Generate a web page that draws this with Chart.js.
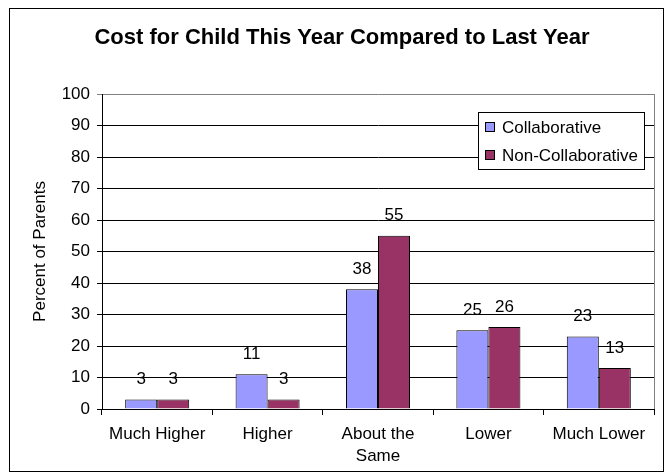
<!DOCTYPE html>
<html>
<head>
<meta charset="utf-8">
<script src="https://cdn.jsdelivr.net/npm/chart.js@4"></script>
<style>
  html, body { margin: 0; padding: 0; background: #fff; }
  canvas { display: block; }
</style>
</head>
<body>
<canvas id="costChart" width="665" height="473"></canvas>
<script>
  const categories = ["Much Higher", "Higher", ["About the", "Same"], "Lower", "Much Lower"];
  const collaborative = [3, 11, 38, 25, 23];
  const nonCollaborative = [3, 3, 55, 26, 13];
  const yMin = 0;
  const yMax = 100;
  const yStep = 10;

  const FONT = "Arial, 'Liberation Sans', sans-serif";
  Chart.defaults.font.family = FONT;
  Chart.defaults.color = "#000";

  // white page, outer frame and grey plot border
  const framePlugin = {
    id: "frame",
    beforeDraw(chart) {
      const ctx = chart.ctx;
      ctx.save();
      ctx.fillStyle = "#fff";
      ctx.fillRect(0, 0, chart.width, chart.height);
      ctx.restore();
    },
    afterDraw(chart) {
      const ctx = chart.ctx;
      const a = chart.chartArea;
      ctx.save();
      ctx.strokeStyle = "#808080";
      ctx.lineWidth = 1;
      ctx.beginPath();
      ctx.moveTo(Math.round(a.right) + 0.5, a.top);
      ctx.lineTo(Math.round(a.right) + 0.5, a.bottom);
      ctx.stroke();
      ctx.strokeStyle = "#000";
      ctx.strokeRect(9.5, 8.5, chart.width - 11, chart.height - 10);
      ctx.restore();
    }
  };

  // value labels above bars
  const valueLabels = {
    id: "valueLabels",
    afterDatasetsDraw(chart) {
      const ctx = chart.ctx;
      ctx.save();
      ctx.font = "17px " + FONT;
      ctx.fillStyle = "#000";
      ctx.textAlign = "center";
      ctx.textBaseline = "middle";
      chart.data.datasets.forEach((ds, i) => {
        chart.getDatasetMeta(i).data.forEach((bar, j) => {
          ctx.fillText(String(ds.data[j]), bar.x, bar.y - 20);
        });
      });
      ctx.restore();
    }
  };

  // boxed legend inside the plot area, top right
  const boxLegend = {
    id: "boxLegend",
    afterDraw(chart) {
      const ctx = chart.ctx;
      const x = 478.5, y = 112.5, w = 166, h = 57;
      ctx.save();
      ctx.fillStyle = "#fff";
      ctx.fillRect(x, y, w, h);
      ctx.strokeStyle = "#000";
      ctx.lineWidth = 1;
      ctx.strokeRect(x, y, w, h);
      ctx.font = "17px " + FONT;
      ctx.textBaseline = "middle";
      chart.data.datasets.forEach((ds, i) => {
        const cy = 127 + i * 28;
        ctx.fillStyle = ds.backgroundColor;
        ctx.fillRect(485.5, cy - 4.5, 9, 9);
        ctx.strokeStyle = "#000";
        ctx.strokeRect(485.5, cy - 4.5, 9, 9);
        ctx.fillStyle = "#000";
        ctx.fillText(ds.label, 502, cy + 1);
      });
      ctx.restore();
    }
  };

  new Chart(document.getElementById("costChart"), {
    type: "bar",
    data: {
      labels: categories,
      datasets: [
        {
          label: "Collaborative",
          data: collaborative,
          backgroundColor: "#9999FF",
          borderColor: "#000",
          borderWidth: 1,
        },
        {
          label: "Non-Collaborative",
          data: nonCollaborative,
          backgroundColor: "#993366",
          borderColor: "#000",
          borderWidth: 1,
        },
      ],
    },
    options: {
      responsive: false,
      animation: false,
      layout: { padding: { left: 30, right: 11, top: 0, bottom: 0 } },
      datasets: { bar: { categoryPercentage: 0.58, barPercentage: 1 } },
      plugins: {
        legend: { display: false },
        tooltip: { enabled: false },
        title: {
          display: true,
          text: "Cost for Child This Year Compared to Last Year",
          color: "#000",
          font: { size: 22, weight: "bold" },
          padding: { top: 25, bottom: 42.6 },
        },
      },
      scales: {
        x: {
          grid: { drawOnChartArea: false, offset: true, color: "#000", tickLength: 6 },
          border: { color: "#000" },
          ticks: { color: "#000", font: { size: 17, lineHeight: 1.3 }, padding: 8, maxRotation: 0, autoSkip: false },
          afterFit(scale) { scale.height = 64; },
        },
        y: {
          min: yMin,
          max: yMax,
          ticks: { stepSize: yStep, color: "#000", font: { size: 17 }, padding: 7 },
          grid: {
            color: (c) => (c.tick && c.tick.value === yMax ? "#808080" : "#000"),
            tickLength: 5,
          },
          border: { color: "#000" },
          title: {
            display: true,
            text: "Percent of Parents",
            color: "#000",
            font: { size: 17 },
            padding: { top: 0, bottom: 0 },
          },
          afterFit(scale) { scale.width = 72; },
        },
      },
    },
    plugins: [framePlugin, valueLabels, boxLegend],
  });
</script>
</body>
</html>
